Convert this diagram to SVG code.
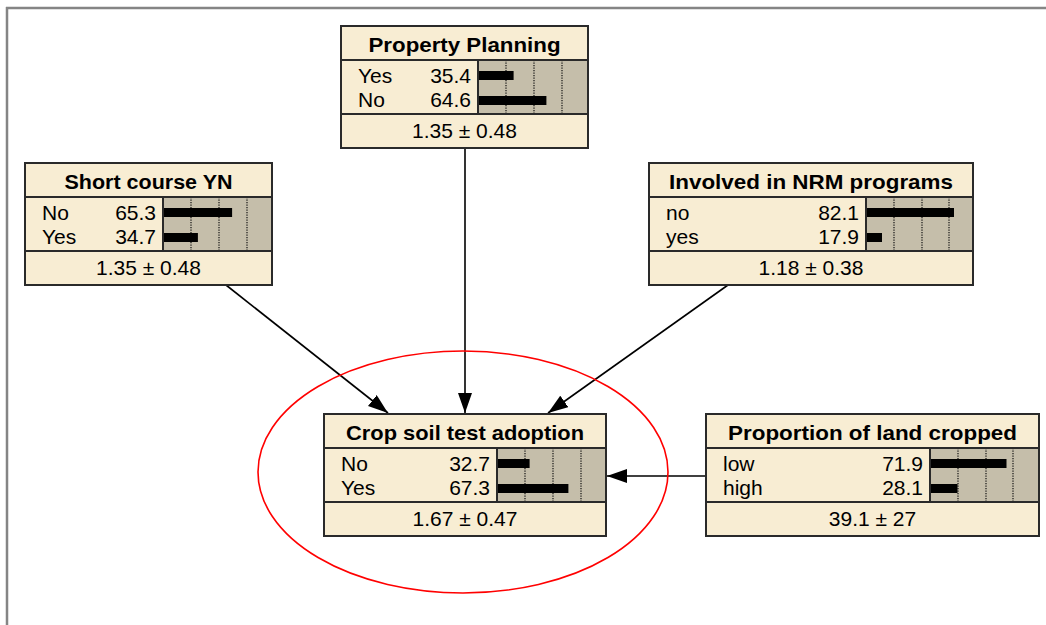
<svg xmlns="http://www.w3.org/2000/svg" width="1046" height="625" viewBox="0 0 1046 625">
<style>
.box{fill:#F8EDD3;stroke:none}
.bg{fill:#C5BEAA}
.dot{stroke:#111;stroke-width:1.2;stroke-dasharray:1.2 1.3}
.bar{fill:#000}
.ln{stroke:#2a2a2a;stroke-width:2;fill:none}
.t{font-family:"Liberation Sans",Arial,sans-serif;fill:#000}
.title{font-size:21px;font-weight:bold;text-anchor:middle}
.lbl{font-size:21px}
.val{font-size:21px;text-anchor:end}
.mean{font-size:21px;text-anchor:middle}
.conn{stroke:#000;stroke-width:1.6;fill:none}
</style>
<defs>
<marker id="ah" markerUnits="userSpaceOnUse" markerWidth="20" markerHeight="14" refX="20" refY="7" orient="auto">
<path d="M0,0 L20,7 L0,14 z" fill="#000"/>
</marker>
</defs>
<rect width="1046" height="625" fill="#fff"/>
<g id="frame">
<line x1="6" y1="8" x2="1046" y2="8" stroke="#858585" stroke-width="2.5"/>
<line x1="7" y1="7" x2="7" y2="625" stroke="#858585" stroke-width="2.5"/>
</g>
<g id="connectors">
<line class="conn" x1="226" y1="285" x2="388" y2="413" marker-end="url(#ah)"/>
<line class="conn" x1="465" y1="148" x2="465" y2="413" marker-end="url(#ah)"/>
<line class="conn" x1="728" y1="285" x2="548" y2="413" marker-end="url(#ah)"/>
<line class="conn" x1="706" y1="476" x2="607" y2="476" marker-end="url(#ah)"/>
</g>
<ellipse id="highlight" cx="463" cy="472" rx="205" ry="121" fill="none" stroke="#FF0000" stroke-width="1.6"/>

<g id="property-planning">
<rect class="box" x="341" y="26" width="247" height="122"/>
<rect class="bg" x="478" y="60" width="110" height="54"/>
<line class="dot" x1="506" y1="60" x2="506" y2="114"/>
<line class="dot" x1="534" y1="60" x2="534" y2="114"/>
<line class="dot" x1="562" y1="60" x2="562" y2="114"/>
<rect class="bar" x="478" y="71" width="35.6" height="9"/>
<rect class="bar" x="478" y="96" width="68.4" height="9"/>
<line class="ln" x1="341" y1="60" x2="588" y2="60"/>
<line class="ln" x1="341" y1="114" x2="588" y2="114"/>
<line class="ln" x1="478" y1="60" x2="478" y2="114"/>
<rect class="ln" x="341" y="26" width="247" height="122"/>
<text class="t title" x="464.5" y="52" textLength="192" lengthAdjust="spacingAndGlyphs">Property Planning</text>
<text class="t lbl" x="358" y="83">Yes</text>
<text class="t val" x="471" y="83">35.4</text>
<text class="t lbl" x="358" y="107">No</text>
<text class="t val" x="471" y="107">64.6</text>
<text class="t mean" x="464.5" y="138">1.35 ± 0.48</text>
</g>

<g id="short-course">
<rect class="box" x="25" y="163" width="247" height="122"/>
<rect class="bg" x="163" y="197" width="109" height="54"/>
<line class="dot" x1="191" y1="197" x2="191" y2="251"/>
<line class="dot" x1="219" y1="197" x2="219" y2="251"/>
<line class="dot" x1="247" y1="197" x2="247" y2="251"/>
<rect class="bar" x="163" y="208" width="69.1" height="9"/>
<rect class="bar" x="163" y="233" width="34.9" height="9"/>
<line class="ln" x1="25" y1="197" x2="272" y2="197"/>
<line class="ln" x1="25" y1="251" x2="272" y2="251"/>
<line class="ln" x1="163" y1="197" x2="163" y2="251"/>
<rect class="ln" x="25" y="163" width="247" height="122"/>
<text class="t title" x="148.5" y="189" textLength="168" lengthAdjust="spacingAndGlyphs">Short course YN</text>
<text class="t lbl" x="42" y="220">No</text>
<text class="t val" x="156" y="220">65.3</text>
<text class="t lbl" x="42" y="244">Yes</text>
<text class="t val" x="156" y="244">34.7</text>
<text class="t mean" x="148.5" y="275">1.35 ± 0.48</text>
</g>

<g id="nrm-programs">
<rect class="box" x="649" y="163" width="324" height="122"/>
<rect class="bg" x="866" y="197" width="107" height="54"/>
<line class="dot" x1="894" y1="197" x2="894" y2="251"/>
<line class="dot" x1="922" y1="197" x2="922" y2="251"/>
<line class="dot" x1="949" y1="197" x2="949" y2="251"/>
<rect class="bar" x="866" y="208" width="88" height="9"/>
<rect class="bar" x="866" y="233" width="16" height="9"/>
<line class="ln" x1="649" y1="197" x2="973" y2="197"/>
<line class="ln" x1="649" y1="251" x2="973" y2="251"/>
<line class="ln" x1="866" y1="197" x2="866" y2="251"/>
<rect class="ln" x="649" y="163" width="324" height="122"/>
<text class="t title" x="811" y="189" textLength="284" lengthAdjust="spacingAndGlyphs">Involved in NRM programs</text>
<text class="t lbl" x="666" y="220">no</text>
<text class="t val" x="859" y="220">82.1</text>
<text class="t lbl" x="666" y="244">yes</text>
<text class="t val" x="859" y="244">17.9</text>
<text class="t mean" x="811" y="275">1.18 ± 0.38</text>
</g>

<g id="crop-soil-test">
<rect class="box" x="324" y="414" width="282" height="122"/>
<rect class="bg" x="497" y="448" width="109" height="54"/>
<line class="dot" x1="525" y1="448" x2="525" y2="502"/>
<line class="dot" x1="553" y1="448" x2="553" y2="502"/>
<line class="dot" x1="581" y1="448" x2="581" y2="502"/>
<rect class="bar" x="497" y="459" width="32.6" height="9"/>
<rect class="bar" x="497" y="484" width="71.4" height="9"/>
<line class="ln" x1="324" y1="448" x2="606" y2="448"/>
<line class="ln" x1="324" y1="502" x2="606" y2="502"/>
<line class="ln" x1="497" y1="448" x2="497" y2="502"/>
<rect class="ln" x="324" y="414" width="282" height="122"/>
<text class="t title" x="465" y="440" textLength="238" lengthAdjust="spacingAndGlyphs">Crop soil test adoption</text>
<text class="t lbl" x="341" y="471">No</text>
<text class="t val" x="490" y="471">32.7</text>
<text class="t lbl" x="341" y="495">Yes</text>
<text class="t val" x="490" y="495">67.3</text>
<text class="t mean" x="465" y="526">1.67 ± 0.47</text>
</g>

<g id="land-cropped">
<rect class="box" x="706" y="414" width="333" height="122"/>
<rect class="bg" x="930" y="448" width="109" height="54"/>
<line class="dot" x1="958" y1="448" x2="958" y2="502"/>
<line class="dot" x1="986" y1="448" x2="986" y2="502"/>
<line class="dot" x1="1013" y1="448" x2="1013" y2="502"/>
<rect class="bar" x="930" y="459" width="76.5" height="9"/>
<rect class="bar" x="930" y="484" width="27.5" height="9"/>
<line class="ln" x1="706" y1="448" x2="1039" y2="448"/>
<line class="ln" x1="706" y1="502" x2="1039" y2="502"/>
<line class="ln" x1="930" y1="448" x2="930" y2="502"/>
<rect class="ln" x="706" y="414" width="333" height="122"/>
<text class="t title" x="872.5" y="440" textLength="289" lengthAdjust="spacingAndGlyphs">Proportion of land cropped</text>
<text class="t lbl" x="723" y="471">low</text>
<text class="t val" x="923" y="471">71.9</text>
<text class="t lbl" x="723" y="495">high</text>
<text class="t val" x="923" y="495">28.1</text>
<text class="t mean" x="872.5" y="526">39.1 ± 27</text>
</g>
</svg>
